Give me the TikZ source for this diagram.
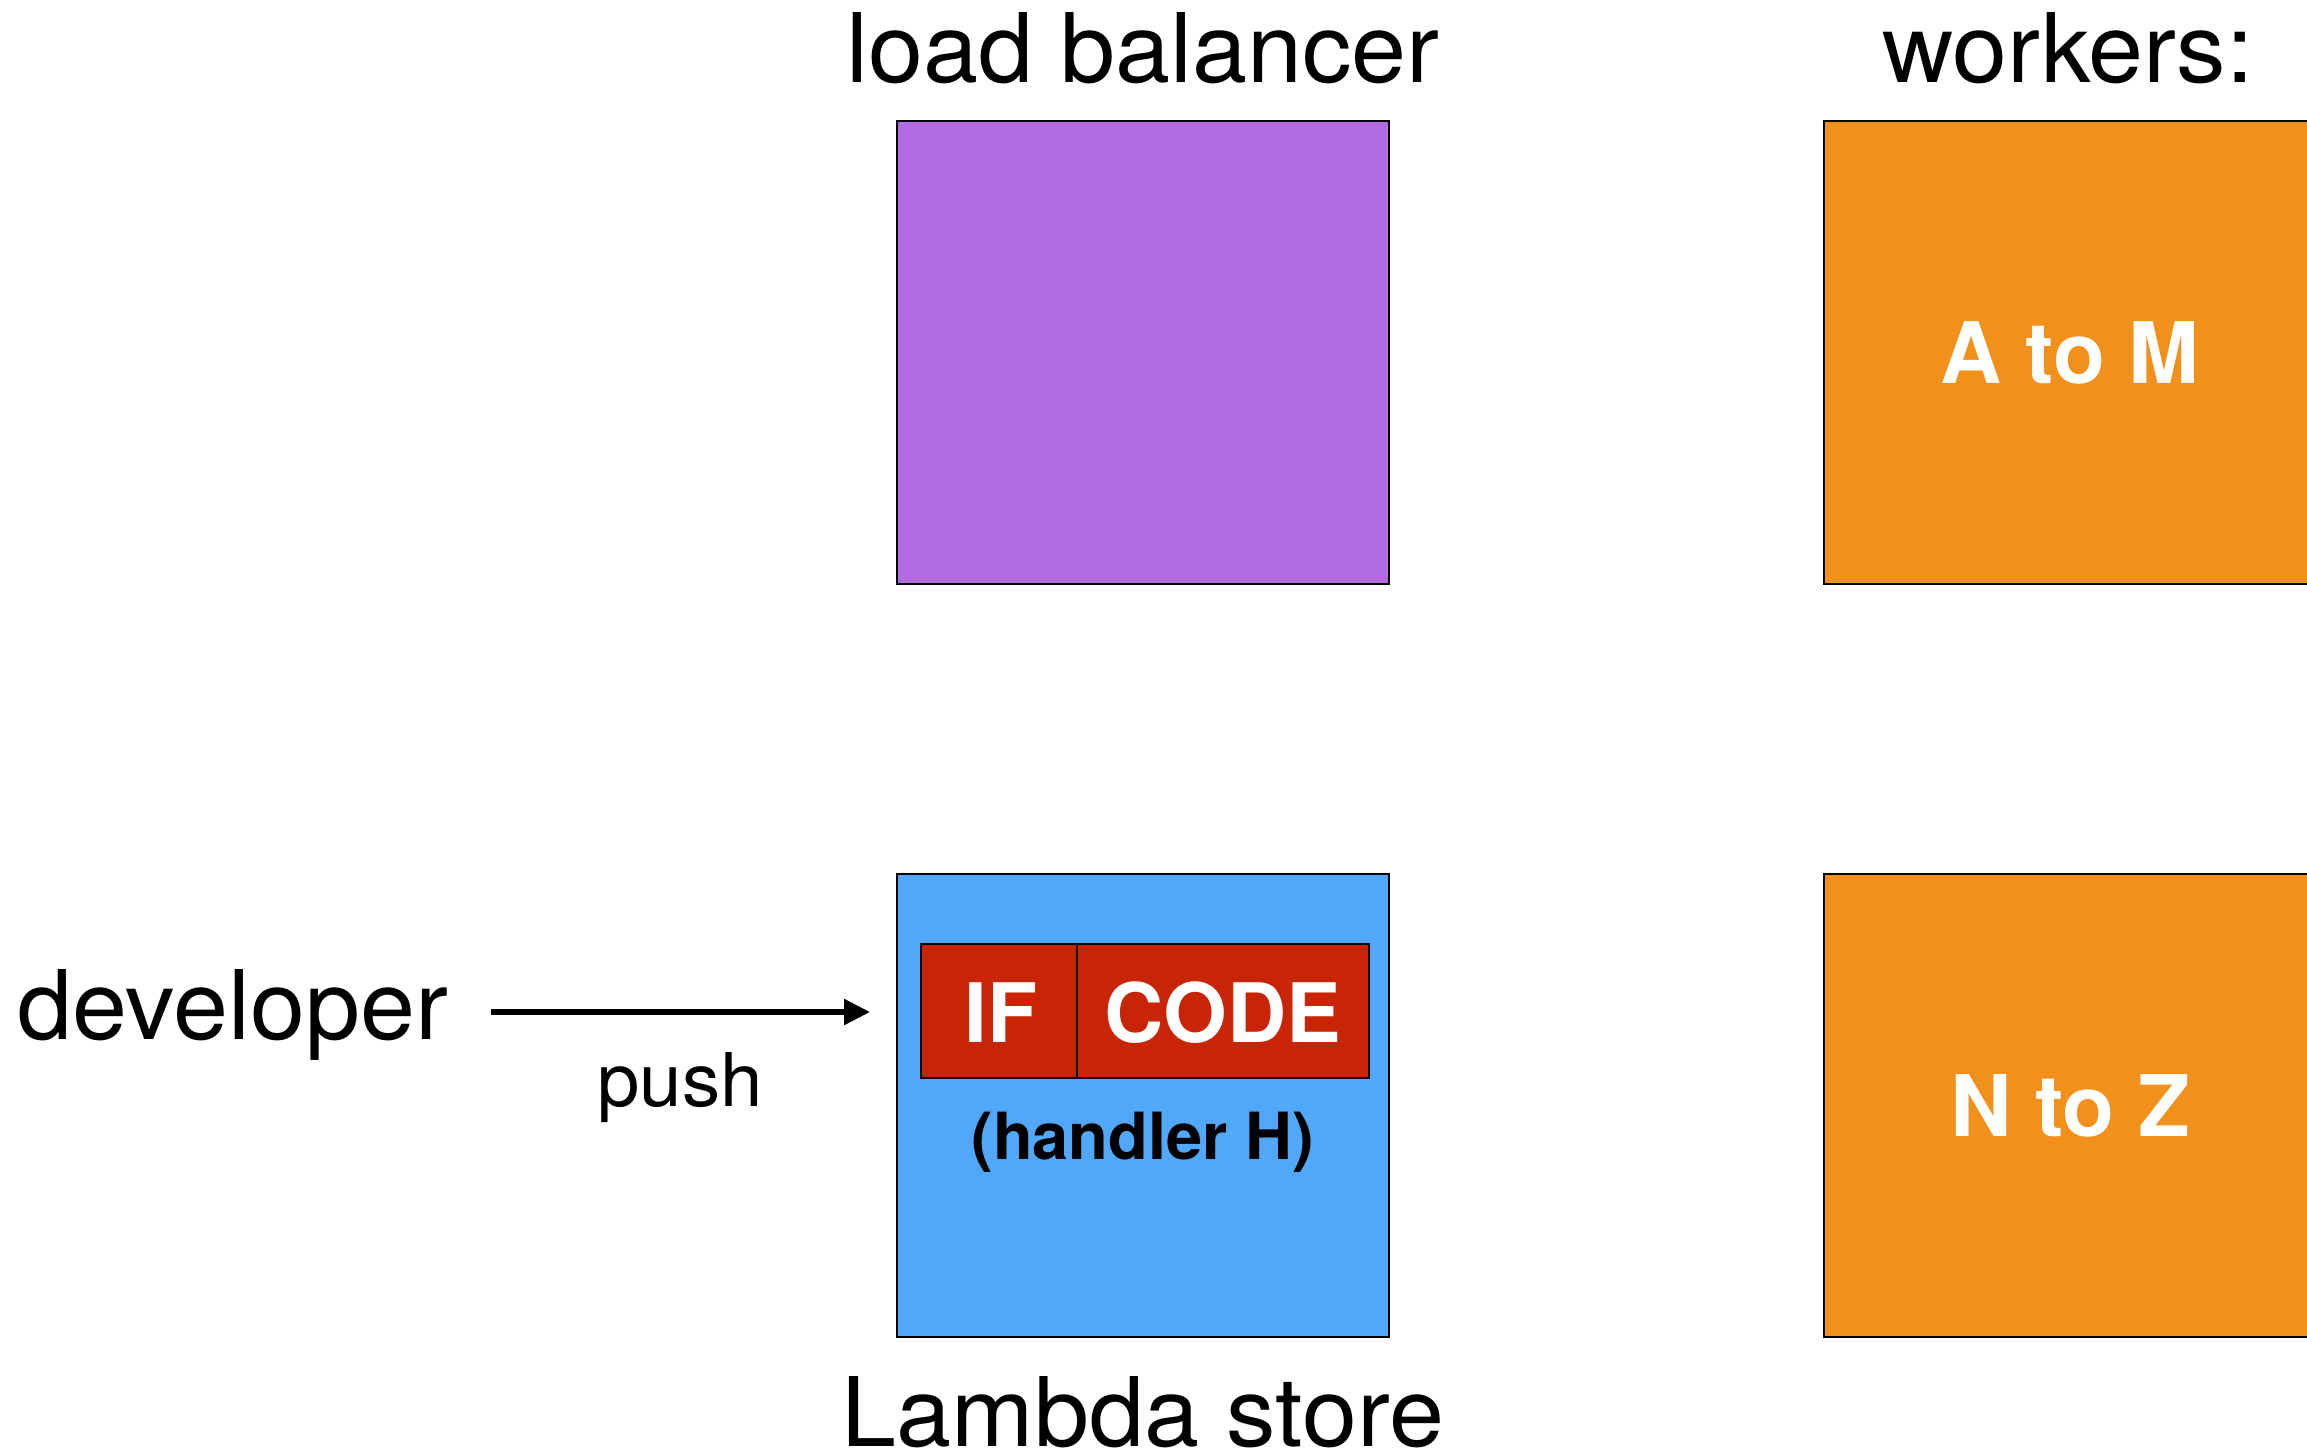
\documentclass[tikz,border=0pt]{standalone}
\usepackage{fontspec}
\setmainfont{TeX Gyre Heros}
\newfontfamily\widesans{TeX Gyre Heros}[FakeStretch=1.03]
\usetikzlibrary{arrows.meta}
\definecolor{lbpurple}{RGB}{179,107,226}
\definecolor{wkorange}{RGB}{242,144,28}
\definecolor{storeblue}{RGB}{81,167,249}
\definecolor{codered}{RGB}{200,37,6}
\tikzset{
  panel/.style={draw=black, line width=2.5pt, minimum width=492pt, minimum height=463pt, inner sep=0pt},
  codecell/.style={draw=black, line width=2.5pt, fill=codered, minimum height=134pt, inner sep=0pt},
  title/.style={anchor=base, inner sep=0pt, font=\widesans\fontsize{96}{110}\selectfont},
  bigbold/.style={anchor=base, inner sep=0pt, text=white, font=\fontsize{85}{100}\selectfont\bfseries},
  codetext/.style={anchor=base, inner sep=0pt, text=white, font=\fontsize{82}{96}\selectfont\bfseries},
  pusharrow/.style={line width=5.5pt, -{Triangle[length=26pt,width=25pt]}},
}
\begin{document}
\begin{tikzpicture}[x=1pt,y=-1pt]
  \useasboundingbox (0,0) rectangle (2307,1452);
  \clip (0,0) rectangle (2307,1452);

  % load balancer and workers
  \node[panel, fill=lbpurple] (lb) at (1143,352.5) {};
  \node[panel, fill=wkorange] (wAM) at (2070,352.5) {};
  \node[panel, fill=wkorange] (wNZ) at (2070,1105.5) {};
  \node[bigbold] (lblAM) at (2070,383) {A to M};
  \node[bigbold] (lblNZ) at (2070,1136) {N to Z};

  % Lambda store with the pushed handler
  \node[panel, fill=storeblue] (store) at (1143,1105.5) {};
  \node[codecell, minimum width=156pt] (ifcell) at (999,1011) {};
  \node[codecell, minimum width=292pt] (codecellnode) at (1223,1011) {};
  \node[codetext] (iftext) at (1001,1042) {IF};
  \node[codetext] (codetxt) at (1223,1042) {CODE};
  \node[anchor=base, inner sep=0pt, font=\fontsize{65}{78}\selectfont\bfseries] (handler) at (1143,1159) {(handler H)};

  % titles
  \node[title] (lbtitle) at (1143,82) {load balancer};
  \node[title] (wktitle) at (2068,82) {workers:};
  \node[title] (storetitle) at (1143,1446) {Lambda store};
  \node[title, anchor=base west] (dev) at (17,1039) {developer};

  % push arrow
  \coordinate (pushstart) at (491,1012);
  \coordinate (pushend) at (870,1012);
  \draw[pusharrow] (pushstart) -- (pushend);
  \node[anchor=base, inner sep=0pt, font=\widesans\fontsize{74}{88}\selectfont] (push) at (680,1106) {push};
\end{tikzpicture}
\end{document}
